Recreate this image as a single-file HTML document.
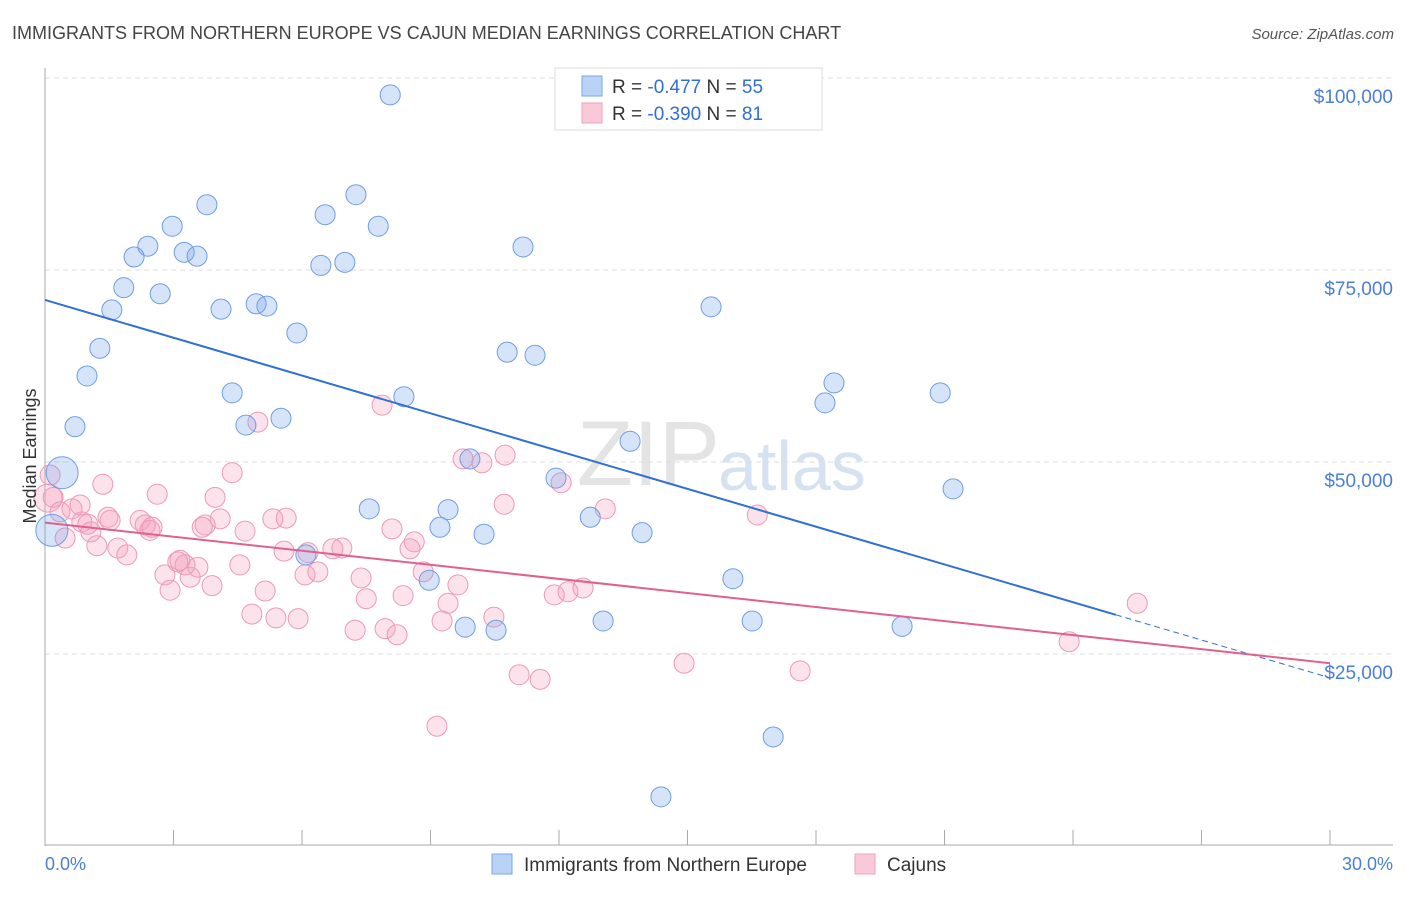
<!DOCTYPE html>
<html><head><meta charset="utf-8"><style>
body{margin:0;background:#fff;font-family:"Liberation Sans",sans-serif}
svg text{font-family:"Liberation Sans",sans-serif}
</style></head><body>
<svg id="c" width="1406" height="892">
<text x="12" y="39" font-size="18" fill="#444">IMMIGRANTS FROM NORTHERN EUROPE VS CAJUN MEDIAN EARNINGS CORRELATION CHART</text>
<text x="1394" y="39" font-size="15" fill="#555" text-anchor="end" font-style="italic">Source: ZipAtlas.com</text>
<text x="720" y="485" font-size="92" fill="#e4e4e4" text-anchor="end" font-family="Liberation Serif">ZIP</text>
<text x="718" y="490" font-size="70" fill="#d6e2f2">atlas</text>
<g id="grid"></g><g id="axes"></g><g id="pts"></g><g id="lines"></g>
<text x="36" y="456" font-size="18" fill="#333" text-anchor="middle" transform="rotate(-90 36 456)">Median Earnings</text>
<g>
<rect x="555" y="68" width="267" height="62" fill="#fff" stroke="#ddd"/>
<rect x="582" y="76" width="20" height="20" fill="#b9d2f5" stroke="#7aa6e6"/>
<rect x="582" y="103" width="20" height="20" fill="#f9c9d8" stroke="#eea2bc"/>
<text x="612" y="93" font-size="19" fill="#333">R = <tspan fill="#2f6fd6">-0.477</tspan>   N = <tspan fill="#2f6fd6">55</tspan></text>
<text x="612" y="120" font-size="19" fill="#333">R = <tspan fill="#2f6fd6">-0.390</tspan>   N =  <tspan fill="#2f6fd6">81</tspan></text>
</g>
<g>
<rect x="492" y="854" width="20" height="20" fill="#b9d2f5" stroke="#7aa6e6"/>
<text x="524" y="871" font-size="19" fill="#333">Immigrants from Northern Europe</text>
<rect x="855" y="854" width="20" height="20" fill="#f9c9d8" stroke="#eea2bc"/>
<text x="887" y="871" font-size="19" fill="#333">Cajuns</text>
</g>
<text x="45" y="870" font-size="18" fill="#4a7fd6">0.0%</text>
<text x="1393" y="870" font-size="18" fill="#4a7fd6" text-anchor="end">30.0%</text>
</svg>
<script>
const yTicks=[25000,50000,75000,100000];
const yTickLabels=["$25,000","$50,000","$75,000","$100,000"];
const blueX=[8.06,3.78,7.26,2.97,6.54,7.78,2.40,3.25,3.55,2.08,6.44,7.0,11.16,1.84,2.69,1.56,4.11,4.93,5.18,15.55,5.88,1.28,10.79,11.44,0.98,18.42,4.37,8.38,18.21,20.9,0.70,4.69,5.51,13.66,9.92,0.40,11.93,21.2,7.57,9.41,12.73,9.22,10.25,13.94,0.16,6.09,8.97,16.06,9.81,10.53,13.03,16.51,20.01,17.0,14.38];
const blueY=[97.8,83.5,84.8,80.7,82.2,80.7,78.1,77.3,76.8,76.7,75.6,76.0,78.0,72.7,71.9,69.8,69.9,70.6,70.3,70.2,66.8,64.8,64.3,63.9,61.2,60.3,59.0,58.5,57.7,59.0,54.6,54.8,55.7,52.7,50.4,48.6,47.9,46.5,43.9,43.8,42.8,41.5,40.6,40.8,41.1,37.9,34.6,34.8,28.5,28.1,29.3,29.3,28.6,14.2,6.4];
const blueBig=[0.40,0.16];
const pinkX=[0.12,0.19,0.07,0.35,0.63,0.86,1.0,1.21,1.35,1.47,1.07,0.47,0.82,1.70,1.91,1.52,2.22,2.34,2.45,2.62,2.80,2.92,3.15,3.27,3.39,3.57,3.74,3.67,3.90,3.97,4.09,4.37,4.55,4.67,4.83,4.97,5.14,5.32,5.39,5.63,5.58,5.91,6.07,6.14,6.37,6.72,6.93,7.24,7.38,7.50,7.87,7.94,8.10,8.22,8.36,8.52,8.62,8.83,9.27,9.41,9.64,9.76,10.20,10.74,10.72,10.48,11.07,11.56,11.89,12.05,12.21,12.56,13.08,14.92,16.63,17.63,23.91,25.5,9.15,2.5,3.1];
const pinkY=[48.3,45.4,45.3,43.5,43.9,42.2,41.9,39.1,47.1,42.8,40.9,40.1,44.4,38.8,37.9,42.4,42.4,41.8,41.1,45.8,35.3,33.3,37.2,36.6,35.0,36.3,41.8,41.5,33.9,45.4,42.6,48.6,36.6,41.0,30.2,55.2,33.2,42.6,29.7,42.7,38.4,29.6,35.3,38.2,35.7,38.7,38.8,28.1,34.9,32.2,57.4,28.3,41.3,27.5,32.6,38.7,39.6,35.7,29.3,31.6,34.0,50.4,49.9,50.9,44.5,29.8,22.3,21.7,32.7,47.3,33.1,33.6,43.9,23.8,43.1,22.8,26.6,31.6,15.6,41.5,37.0];
const blueTrend=[[0,71100],[25,30100],[30,21900]];
const pinkTrend=[[0,42100],[30,23800]];
const NS="http://www.w3.org/2000/svg";
const X=v=>45+v/30*1285;
const Y=v=>846-v/25000*192;
function mk(tag,attrs,parent){const e=document.createElementNS(NS,tag);for(const k in attrs)e.setAttribute(k,attrs[k]);document.getElementById(parent).appendChild(e);return e;}
yTicks.forEach((t,i)=>{
 const g=mk('line',{x1:45,x2:1393,y1:Y(t),y2:Y(t),stroke:'#ddd','stroke-dasharray':'5,4'},'grid');
 
 
 const tx=mk('text',{x:1393,y:Y(t)+25,'font-size':19,fill:'#4a7fd6','text-anchor':'end'},'grid');
 tx.textContent=yTickLabels[i];
 
 
});
const ax=mk('line',{x1:45,x2:45,y1:68,y2:846,stroke:'#aaa'},'axes');


const bx=mk('line',{x1:45,x2:1393,y1:845,y2:845,stroke:'#aaa'},'axes');


for(let i=0;i<=10;i++){const v=i*3;
 const t=mk('line',{x1:X(v),x2:X(v),y1:830,y2:845,stroke:'#aaa'},'axes');
 
 
}
pinkX.forEach((x,i)=>{
 const c=mk('circle',{cx:X(x),cy:Y(pinkY[i]*1000),r:i==2?14:10,fill:'rgba(244,160,190,0.3)',stroke:'#eb9ab6','stroke-width':1},'pts');
 
 
});
blueX.forEach((x,i)=>{
 const big=blueBig.includes(x);
 const c=mk('circle',{cx:X(x),cy:Y(blueY[i]*1000),r:big?16:10,fill:'rgba(120,165,235,0.3)',stroke:'#6f9de2','stroke-width':1},'pts');
 
 
});
const b1=mk('line',{x1:X(blueTrend[0][0]),y1:Y(blueTrend[0][1]),x2:X(blueTrend[1][0]),y2:Y(blueTrend[1][1]),stroke:'#2f6fd6','stroke-width':2},'lines');


const b2=mk('line',{x1:X(blueTrend[1][0]),y1:Y(blueTrend[1][1]),x2:X(blueTrend[2][0]),y2:Y(blueTrend[2][1]),stroke:'#2f6fd6','stroke-width':1,'stroke-dasharray':'6,4'},'lines');


const p1=mk('line',{x1:X(pinkTrend[0][0]),y1:Y(pinkTrend[0][1]),x2:X(pinkTrend[1][0]),y2:Y(pinkTrend[1][1]),stroke:'#e0608e','stroke-width':2},'lines');


</script>
</body></html>
